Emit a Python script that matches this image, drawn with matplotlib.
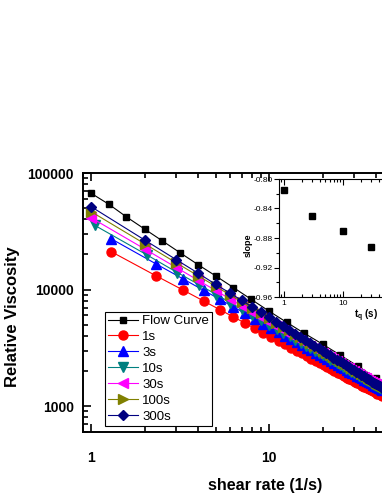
import numpy as np
import matplotlib
matplotlib.use("Agg")
import matplotlib.pyplot as plt
from matplotlib.ticker import FixedLocator, LogLocator, NullFormatter, FixedFormatter, MultipleLocator

plt.rcParams['font.family'] = ['Liberation Sans', 'DejaVu Sans']

# flow curve: 10 points per decade
flow_x = [1.0, 1.26, 1.58, 2.0, 2.51, 3.16, 3.98, 5.01, 6.31, 7.94, 10.0,
          12.6, 15.8, 20.0, 25.1, 31.6, 39.8, 50.1, 63.1, 79.4, 100.0]
flow_y = [67000, 53800, 42000, 33000, 26200, 20700, 16400, 13100, 10400, 8240, 6530,
          5220, 4210, 3400, 2740, 2200, 1750, 1400, 1120, 900, 720]

# recovery series: linear steps of shear rate
x_int = list(range(1, 45))
x_off = [1.3, 2.3, 3.3, 4.3, 5.3, 6.3, 7.3, 8.3, 9.3, 10.3, 11.3, 12.3, 13.3, 14.3, 15.3,
         16.3, 17.3, 18.3, 19.3, 20.3, 21.3, 22.3, 23.3, 24.3, 25.3, 26.3, 27.3, 28.3, 29.3,
         30.3, 31.3, 32.3, 33.3, 34.3, 35.3, 36.3, 37.3, 38.3, 39.3, 40.3, 41.3, 42.3, 43.3]
x_teal = [1.05, 2.05, 3.05, 4.05, 5.05, 6.05, 7.05, 8.05, 9.05, 10.05, 11.05, 12.05, 13.05,
          14.05, 15.05, 16.05, 17.05, 18.05, 19.05, 20.05, 21.05, 22.05, 23.05, 24.05, 25.05,
          26.05, 27.05, 28.05, 29.05, 30.05, 31.05, 32.05, 33.05, 34.05, 35.05, 36.05, 37.05,
          38.05, 39.05, 40.05, 41.05, 42.05, 43.05, 44.05]

y_1s = [21100, 13200, 9870, 7960, 6710, 5830, 5170, 4650, 4240, 3900, 3620, 3380, 3170, 2990,
        2830, 2690, 2560, 2440, 2340, 2250, 2160, 2080, 2010, 1940, 1880, 1820, 1760, 1710,
        1670, 1620, 1580, 1540, 1500, 1460, 1430, 1400, 1370, 1340, 1310, 1280, 1260, 1240, 1210]
y_3s = [27200, 16700, 12300, 9830, 8230, 7100, 6270, 5620, 5100, 4680, 4320, 4020, 3760, 3540,
        3340, 3170, 3010, 2870, 2740, 2630, 2520, 2430, 2340, 2260, 2180, 2110, 2040, 1980,
        1920, 1870, 1820, 1770, 1730, 1680, 1640, 1600, 1570, 1530, 1500, 1470, 1440, 1410, 1380]
y_10s = [35500, 19900, 14000, 11000, 9060, 7740, 6780, 6040, 5460, 4980, 4590, 4250, 3970, 3720,
         3500, 3310, 3140, 2990, 2850, 2730, 2620, 2510, 2420, 2330, 2250, 2170, 2100, 2040,
         1980, 1920, 1870, 1820, 1770, 1720, 1680, 1640, 1600, 1560, 1530, 1500, 1460, 1430,
         1400, 1380]
y_30s = [41300, 22300, 15500, 12000, 9830, 8350, 7280, 6460, 5820, 5300, 4870, 4500, 4190, 3920,
         3690, 3480, 3300, 3140, 2990, 2850, 2730, 2620, 2520, 2430, 2340, 2260, 2180, 2110,
         2050, 1990, 1930, 1880, 1830, 1780, 1730, 1690, 1650, 1610, 1570, 1540, 1500, 1470,
         1440, 1410]
y_100s = [46600, 24700, 17000, 13100, 10700, 9030, 7850, 6940, 6240, 5660, 5190, 4790, 4460, 4160,
          3910, 3680, 3490, 3310, 3150, 3000, 2870, 2750, 2640, 2540, 2450, 2360, 2280, 2210,
          2140, 2070, 2010, 1950, 1900, 1850, 1800, 1750, 1710, 1670, 1630, 1590, 1560, 1520,
          1490, 1460]
y_300s = [51400, 26600, 18100, 13800, 11100, 9370, 8090, 7130, 6380, 5770, 5270, 4850, 4500, 4190,
          3920, 3690, 3480, 3300, 3130, 2990, 2850, 2730, 2610, 2510, 2420, 2330, 2240, 2170,
          2100, 2030, 1970, 1910, 1860, 1800, 1750, 1710, 1660, 1620, 1580, 1550, 1510, 1480,
          1440, 1410]

# inset: slope vs quiescent time
tq = [1, 3, 10, 30]
slope = [-0.815, -0.850, -0.870, -0.892]

series = [
    ("Flow Curve", flow_x, flow_y, "s", "black", 5),
    ("1s", x_off, y_1s, "o", "#ff0000", 6.5),
    ("3s", x_off, y_3s, "^", "#0000ff", 6.5),
    ("10s", x_teal, y_10s, "v", "#008080", 6.5),
    ("30s", x_int, y_30s, "<", "#ff00ff", 6.5),
    ("100s", x_int, y_100s, ">", "#808000", 6.5),
    ("300s", x_int, y_300s, "D", "#000080", 5.5),
]

fig = plt.figure(figsize=(3.82, 4.94), dpi=100)
ax = fig.add_axes([83/382, 62/494, 364/382, 259/494])

for name, xs, ys, mk, col, ms in series:
    ax.plot(xs, ys, marker=mk, color=col, ms=ms, lw=0.8, mec=col, label=name)

ax.set_xscale('log')
ax.set_yscale('log')
ax.set_xlim(0.9, 100)
ax.set_ylim(600, 100000)

ax.xaxis.set_major_locator(FixedLocator([1, 10, 100]))
ax.xaxis.set_major_formatter(FixedFormatter(["1", "10", ""]))
ax.yaxis.set_major_locator(FixedLocator([1000, 10000, 100000]))
ax.yaxis.set_major_formatter(FixedFormatter(["1000", "10000", "100000"]))
ax.xaxis.set_minor_locator(LogLocator(base=10, subs=np.arange(2, 10), numticks=20))
ax.yaxis.set_minor_locator(LogLocator(base=10, subs=np.arange(2, 10), numticks=20))
ax.xaxis.set_minor_formatter(NullFormatter())
ax.yaxis.set_minor_formatter(NullFormatter())

ax.tick_params(which='both', direction='in', top=True, right=True, width=1.2)
ax.tick_params(which='major', length=6)
ax.tick_params(which='minor', length=3.5)
ax.tick_params(axis='y', which='major', pad=6.5)
ax.tick_params(axis='x', which='major', pad=14)
for lab in ax.get_xticklabels() + ax.get_yticklabels():
    lab.set_fontsize(10)
    lab.set_fontweight('bold')
for s in ax.spines.values():
    s.set_linewidth(1.4)

ax.set_ylabel("Relative Viscosity", fontsize=12, fontweight='bold', va='center')
ax.yaxis.set_label_coords(-0.195, 0.444)
ax.set_xlabel("shear rate (1/s)", fontsize=11.5, fontweight='bold', va='center')
ax.xaxis.set_label_coords(0.5, -0.205)

leg = ax.legend(loc='lower left', bbox_to_anchor=(0.060, 0.023), borderaxespad=0,
                fontsize=9.5, handlelength=2.27, handletextpad=0.3, labelspacing=0.28,
                borderpad=0.25, fancybox=False, framealpha=1, edgecolor='black')
leg.get_frame().set_linewidth(0.8)

# inset
axi = fig.add_axes([279/382, (494-297)/494, 174/382, 118/494])
axi.plot(tq, slope, 's', color='black', ms=4.5, ls='none')
axi.set_xscale('log')
axi.set_xlim(0.82, 730)
axi.set_ylim(-0.96, -0.80)
axi.yaxis.set_minor_locator(MultipleLocator(0.02))
axi.set_yticks([-0.96, -0.92, -0.88, -0.84, -0.80])
axi.set_yticklabels(["-0.96", "-0.92", "-0.88", "-0.84", "-0.80"])
axi.xaxis.set_major_locator(FixedLocator([1, 10, 100]))
axi.xaxis.set_major_formatter(FixedFormatter(["1", "10", ""]))
axi.xaxis.set_minor_locator(LogLocator(base=10, subs=np.arange(2, 10), numticks=20))
axi.xaxis.set_minor_formatter(NullFormatter())
axi.tick_params(axis='x', which='both', direction='in', top=True, labelsize=6, pad=2.5, width=0.8)
axi.tick_params(axis='x', which='major', length=4)
axi.tick_params(axis='x', which='minor', length=2.5)
axi.tick_params(axis='y', which='both', direction='out', labelsize=6, pad=1, width=0.8)
axi.tick_params(axis='y', which='major', length=3.5)
axi.tick_params(axis='y', which='minor', length=2)
for s in axi.spines.values():
    s.set_linewidth(0.8)
axi.set_ylabel("slope", fontsize=6.5, fontweight='bold', va='center')
axi.yaxis.set_label_coords(-0.178, 0.44)
axi.set_xlabel("t$_\\mathregular{q}$ (s)", fontsize=7, fontweight='bold', va='center')
axi.xaxis.set_label_coords(0.5, -0.161)

fig.savefig("out.png", dpi=100)
